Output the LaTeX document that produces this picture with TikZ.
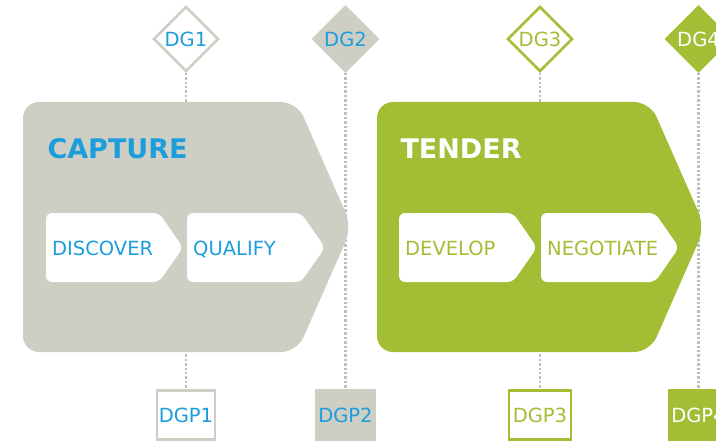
\documentclass[tikz,border=0pt]{standalone}
\usepackage{fontspec}
\setsansfont{DejaVu Sans}
\usepackage{tikz}
\usetikzlibrary{shapes,positioning}

\definecolor{capgray}{RGB}{207,206,196}
\definecolor{tendgreen}{RGB}{161,190,52}
\definecolor{dgblue}{RGB}{28,158,220}
\definecolor{dotgray}{RGB}{190,190,186}

\begin{document}
\begin{tikzpicture}[x=1pt, y=-1pt, font=\sffamily\fontsize{19.5}{23}\selectfont,
    gate/.style={diamond, minimum width=65pt, minimum height=65pt, inner sep=0pt, line width=2.6pt},
    gatebox/.style={rectangle, minimum width=58pt, minimum height=49pt, inner sep=0pt, line width=2.6pt},
    dotline/.style={dotgray, line width=2.4pt, dash pattern=on 2.4pt off 2pt},
    phase/.style={anchor=base west, font=\sffamily\bfseries\fontsize{27}{30}\selectfont},
    step label/.style={anchor=base west, inner sep=0pt}]
    \clip (0,0) rectangle (716,444);

    % Gates on top
    \node[gate, draw=capgray, fill=white, text=dgblue] (dg1) at (186,39) {DG1};
    \node[gate, draw=capgray, fill=capgray, text=dgblue] (dg2) at (345.5,39) {DG2};
    \node[gate, draw=tendgreen, fill=white, text=tendgreen] (dg3) at (540,39) {DG3};
    \node[gate, draw=tendgreen, fill=tendgreen, text=white] (dg4) at (698.5,39) {DG4};

    % Gate products below
    \node[gatebox, draw=capgray, fill=white, text=dgblue] (dgp1) at (186,415) {DGP1};
    \node[gatebox, draw=capgray, fill=capgray, text=dgblue] (dgp2) at (345.5,415) {DGP2};
    \node[gatebox, draw=tendgreen, fill=white, text=tendgreen, minimum width=62pt] (dgp3) at (540,415) {DGP3};
    \node[gatebox, draw=tendgreen, fill=tendgreen, text=white] (dgp4) at (698.5,415) {DGP4};

    % Dotted links (behind the phases)
    \foreach \n in {1,...,4}
        \draw[dotline] (dg\n) -- (dgp\n);

    % Phase CAPTURE
    \fill[capgray, rounded corners=16pt] (23,102) -- (297,102) -- (352,227) -- (297,352) -- (23,352) -- cycle;
    \node[phase, text=dgblue] (capture) at (44,158) {CAPTURE};

    % Phase TENDER
    \fill[tendgreen, rounded corners=16pt] (377,102) -- (650,102) -- (705,227) -- (650,352) -- (377,352) -- cycle;
    \node[phase, text=white] (tender) at (397,158) {TENDER};

    % Steps inside the phases
    \foreach \xa/\xb/\nm/\txt/\col in {46/183/discover/DISCOVER/dgblue, 187/325/qualify/QUALIFY/dgblue,
                                       399/537/develop/DEVELOP/tendgreen, 541/679/negotiate/NEGOTIATE/tendgreen} {
        \fill[white, rounded corners=6pt] (\xa,213) -- (\xb-24,213) -- (\xb,247.5) -- (\xb-24,282) -- (\xa,282) -- cycle;
        \node[step label, text=\col] (\nm) at (\xa+6,255) {\txt};
    }
\end{tikzpicture}
\end{document}
